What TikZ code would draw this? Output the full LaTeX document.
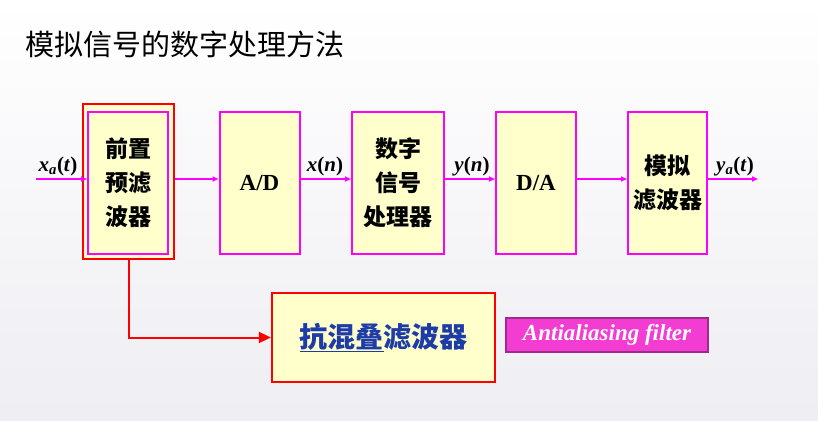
\documentclass[tikz,border=0pt]{standalone}
\usepackage{fontspec}
\setmainfont{Liberation Serif}
\newfontfamily\cjk{Noto Sans CJK SC}
\usepackage{xcolor}
\definecolor{pale}{HTML}{FFFFCC}
\definecolor{pink}{HTML}{FF00FF}
\definecolor{alarm}{HTML}{FF0000}
\definecolor{ink}{HTML}{1E3CA8}
\definecolor{tagfill}{HTML}{F23CD2}
\definecolor{tagedge}{HTML}{A02A8C}
\definecolor{backgr}{HTML}{EEEEF3}
\usepackage{tikz}
\usetikzlibrary{positioning,arrows.meta}

\begin{document}
\begin{tikzpicture}[x=1pt, y=-1pt,
  block/.style={draw=pink, fill=pale, line width=2pt, minimum width=80pt, minimum height=142pt, align=center, inner sep=0pt},
  cjktext/.style={font=\cjk\bfseries\fontsize{23}{34}\selectfont},
  latin/.style={font=\fontsize{23}{26}\selectfont\bfseries},
  sig/.style={draw=pink, line width=1.5pt, -{Triangle[length=6pt,width=5pt]}},
  lbl/.style={anchor=base, font=\fontsize{21}{24}\selectfont\bfseries}]
  \shade[top color=white, bottom color=backgr] (0,0) rectangle (818,420);
  \useasboundingbox (0,0) rectangle (818,420);
  \node[anchor=west, font=\cjk\fontsize{29}{32}\selectfont] (title) at (22,44) {模拟信号的数字处理方法};
  \node[draw=alarm, fill=pale, line width=2.6pt, minimum width=91pt, minimum height=155pt] (preframe) at (128.5,181.5) {};
  \node[block, cjktext] (pre) at (128,183) {前置\\预滤\\波器};
  \node[block, latin] (ad) at (259.5,183) {A/D};
  \node[block, cjktext, minimum width=92pt] (dsp) at (398,183) {数字\\信号\\处理器};
  \node[block, latin] (da) at (536,183) {D/A};
  \node[block, cjktext, minimum width=79pt] (af) at (667.5,183) {模拟\\滤波器};
  \node[draw=alarm, fill=pale, line width=2.4pt, minimum width=223pt, minimum height=89pt, text=ink, font=\cjk\bfseries\fontsize{28}{30}\selectfont] (aaf) at (383.5,337.5) {\underline{抗混叠}滤波器};
  \node[draw=tagedge, fill=tagfill, line width=1.2pt, minimum width=202pt, minimum height=34pt, text=white, font=\fontsize{23}{24}\selectfont\bfseries\itshape] (tag) at (607,335) {Antialiasing filter};
  \coordinate (in) at (36,179);
  \coordinate (out) at (758,179);
  \draw[sig] (in) -- (pre.west |- in);
  \draw[sig] (preframe.east |- in) -- (ad.west |- in);
  \draw[sig] (ad.east |- in) -- (dsp.west |- in);
  \draw[sig] (dsp.east |- in) -- (da.west |- in);
  \draw[sig] (da.east |- in) -- (af.west |- in);
  \draw[sig] (af.east |- in) -- (out);
  \draw[alarm, line width=2pt, -{Triangle[length=12pt,width=11pt]}] (preframe.south) |- (aaf.west);
  \node[lbl] (xa) at (58,171) {\textit{x}\textsubscript{\textit{a}}(\textit{t})};
  \node[lbl] (xn) at (325,171) {\textit{x}(\textit{n})};
  \node[lbl] (yn) at (472,171) {\textit{y}(\textit{n})};
  \node[lbl] (ya) at (735,171) {\textit{y}\textsubscript{\textit{a}}(\textit{t})};
\end{tikzpicture}
\end{document}
